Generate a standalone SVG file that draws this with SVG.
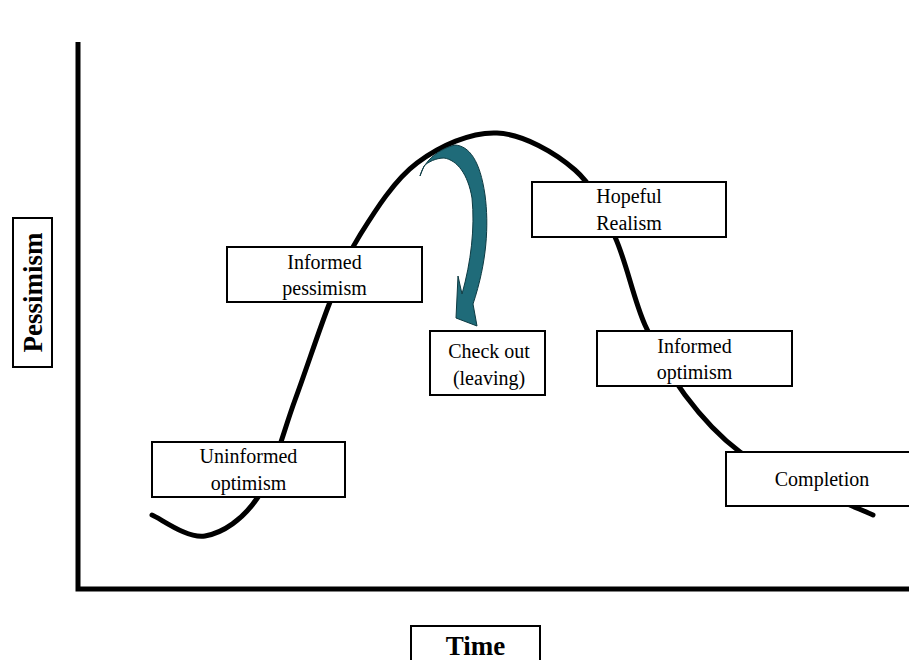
<svg xmlns="http://www.w3.org/2000/svg" width="909" height="660" viewBox="0 0 909 660">
<style>
.box{fill:#fff;stroke:#000;stroke-width:2}
.lbl{font-family:"Liberation Serif","Times New Roman",serif;font-size:20px;fill:#000;text-anchor:middle}
.ax{font-family:"Liberation Serif","Times New Roman",serif;font-size:27px;font-weight:bold;fill:#000;text-anchor:middle}
</style>
<rect width="909" height="660" fill="#fff"/>
<g id="axes" fill="none" stroke="#000" stroke-width="5">
<path d="M78,42 V589 H909"/>
</g>
<g id="connectors">
<path id="curve" fill="none" stroke="#000" stroke-width="5" stroke-linecap="round"
d="M152,515 C160.8,518.5 187.3,539 205,536 C222.7,533 243,519.7 258,497 C273,474.3 283,432.5 295,400 C307,367.5 319.2,329.5 330,302 C340.8,274.5 345.5,258.2 360,235 C374.5,211.8 394.2,180 417,163 C439.8,146 470.7,131.8 497,133 C523.3,134.2 555.3,152.7 575,170 C594.7,187.3 603.3,211.2 615,237 C626.7,262.8 633.3,298.7 645,325 C656.7,351.3 669.2,373.8 685,395 C700.8,416.2 720,437 740,452 C760,467 782.8,474.5 805,485 C827.2,495.5 861.7,510 873,515"/>
<path id="checkout-arrow" fill="#1f6b79" stroke="#0d3a42" stroke-width="1"
d="M420,176 C423,164 435,150 455,145 C469,146 480,160 485,195 C489,225 487,262 473,304 L477,326 L456,318 L458,276 L462,294 C471,262 475,228 472,198 C468,174 457,160 444,158 C436,158 428,162 424,166 Z"/>
</g>
<g id="uninformed-optimism">
<rect class="box" x="152" y="442" width="193" height="55"/>
<text class="lbl" x="248.5" y="463">Uninformed</text>
<text class="lbl" x="248.5" y="490">optimism</text>
</g>
<g id="informed-pessimism">
<rect class="box" x="227" y="247" width="195" height="55"/>
<text class="lbl" x="324.5" y="269">Informed</text>
<text class="lbl" x="324.5" y="295">pessimism</text>
</g>
<g id="check-out">
<rect class="box" x="430" y="331" width="115" height="64"/>
<text class="lbl" x="489" y="358">Check out</text>
<text class="lbl" x="489" y="385">(leaving)</text>
</g>
<g id="hopeful-realism">
<rect class="box" x="532" y="182" width="194" height="55"/>
<text class="lbl" x="629" y="203">Hopeful</text>
<text class="lbl" x="629" y="230">Realism</text>
</g>
<g id="informed-optimism">
<rect class="box" x="597" y="331" width="195" height="55"/>
<text class="lbl" x="694.5" y="353">Informed</text>
<text class="lbl" x="694.5" y="379">optimism</text>
</g>
<g id="completion">
<rect class="box" x="726" y="452" width="200" height="54"/>
<text class="lbl" x="822" y="486">Completion</text>
</g>
<g id="pessimism-label">
<rect class="box" x="13" y="218" width="39" height="149"/>
<text class="ax" transform="translate(42,292.5) rotate(-90)">Pessimism</text>
</g>
<g id="time-label">
<rect class="box" x="411" y="626" width="129" height="50"/>
<text class="ax" x="475.5" y="655">Time</text>
</g>
</svg>
